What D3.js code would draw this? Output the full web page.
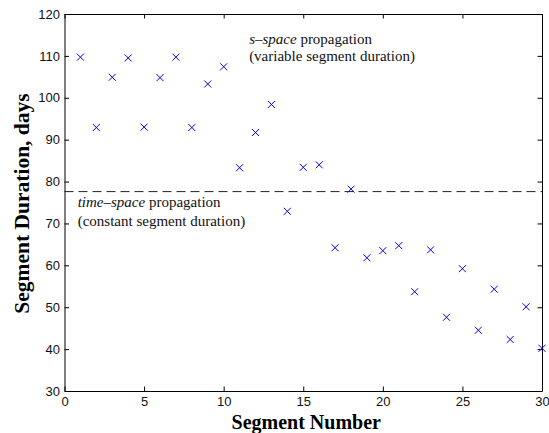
<!DOCTYPE html>
<html lang="en">
    <head>
        <meta charset="utf-8">
        <title> Segment Duration </title>
        <script type="text/javascript" src="https://cdn.jsdelivr.net/npm/d3@7"></script>
        <style type="text/css">
        body { margin: 0; background: #fff; }
        .tick text { font-family: "Liberation Sans", Arial, sans-serif; font-size: 13px; fill: #111; }
        .axis path, .axis line { stroke: #000; stroke-width: 1px; }
        .note { font-family: "Liberation Serif", "Times New Roman", serif; font-size: 15px; fill: #111; }
        .title { font-family: "Liberation Serif", "Times New Roman", serif; font-weight: bold; fill: #000; }
        </style>
    </head>
    <body>
        <script type="text/javascript">

            // Data ------------------------------------------------------------------------
            var segments  = [1, 2, 3, 4, 5, 6, 7, 8, 9, 10, 11, 12, 13, 14, 15,
                             16, 17, 18, 19, 20, 21, 22, 23, 24, 25, 26, 27, 28, 29, 30];
            var durations = [109.7, 92.9, 104.9, 109.5, 93.0, 104.8, 109.7, 92.9, 103.3, 107.4,
                             83.3, 91.7, 98.4, 72.9, 83.4, 84.0, 64.2, 78.2, 61.8, 63.5,
                             64.7, 53.7, 63.7, 47.6, 59.2, 44.5, 54.3, 42.3, 50.1, 40.2];
            var constantDuration = 77.6;

            var xTicks = [0, 5, 10, 15, 20, 25, 30];
            var yTicks = [30, 40, 50, 60, 70, 80, 90, 100, 110, 120];

            // Sizes -----------------------------------------------------------------------
            var width = 549, height = 433;
            var margin = {top: 14, right: 7, bottom: 42, left: 64.5};
            var w = width - margin.left - margin.right;
            var h = height - margin.top - margin.bottom;

            var x = d3.scaleLinear().domain([0, 30]).range([0, w]);
            var y = d3.scaleLinear().domain([30, 120]).range([h, 0]);

            var svg = d3.select("body").append("svg")
                .attr("width", width)
                .attr("height", height);

            var g = svg.append("g")
                .attr("transform", "translate(" + margin.left + "," + margin.top + ")");

            // Axes (box with inward ticks) ------------------------------------------------
            g.append("g").attr("class", "axis")
                .attr("transform", "translate(0," + h + ")")
                .call(d3.axisBottom(x).tickValues(xTicks).tickSizeInner(-4.5).tickSizeOuter(0).tickPadding(6));
            g.append("g").attr("class", "axis")
                .call(d3.axisTop(x).tickValues(xTicks).tickSizeInner(-4.5).tickSizeOuter(0).tickFormat(""));
            g.append("g").attr("class", "axis")
                .call(d3.axisLeft(y).tickValues(yTicks).tickSizeInner(-4.5).tickSizeOuter(0).tickPadding(4.5));
            g.append("g").attr("class", "axis")
                .attr("transform", "translate(" + w + ",0)")
                .call(d3.axisRight(y).tickValues(yTicks).tickSizeInner(-4.5).tickSizeOuter(0).tickFormat(""));

            // constant segment duration line
            g.append("line")
                .attr("x1", x(0)).attr("x2", x(30))
                .attr("y1", y(constantDuration)).attr("y2", y(constantDuration))
                .attr("stroke", "#222")
                .attr("stroke-width", 1)
                .attr("stroke-dasharray", "9,5");

            // x markers
            var s = 3.5;
            var pts = g.selectAll(".pt")
                .data(segments.map(function(d, i) { return {seg: d, dur: durations[i]}; }))
                .enter().append("path")
                .attr("class", "pt")
                .attr("d", function(d) {
                    var cx = x(d.seg), cy = y(d.dur);
                    return "M" + (cx - s) + "," + (cy - s) + "L" + (cx + s) + "," + (cy + s) +
                           "M" + (cx - s) + "," + (cy + s) + "L" + (cx + s) + "," + (cy - s);
                })
                .attr("stroke", "#0000ff")
                .attr("stroke-width", 1)
                .attr("fill", "none");

            // Annotations -----------------------------------------------------------------
            var t1 = g.append("text").attr("class", "note")
                .attr("x", x(11.6)).attr("y", y(112.8));
            t1.append("tspan").attr("font-style", "italic").text("s\u2013space");
            t1.append("tspan").text(" propagation");
            g.append("text").attr("class", "note")
                .attr("x", x(11.6)).attr("y", y(112.8) + 17)
                .text("(variable segment duration)");

            var t2 = g.append("text").attr("class", "note")
                .attr("x", x(0.83)).attr("y", y(73.9));
            t2.append("tspan").attr("font-style", "italic").text("time\u2013space");
            t2.append("tspan").text(" propagation");
            g.append("text").attr("class", "note")
                .attr("x", x(0.83)).attr("y", y(73.9) + 18.5)
                .text("(constant segment duration)");

            // Axis titles -----------------------------------------------------------------
            svg.append("text").attr("class", "title")
                .attr("x", margin.left + w / 2 + 3)
                .attr("y", 429)
                .attr("text-anchor", "middle")
                .style("font-size", "20px")
                .text("Segment Number");

            svg.append("text").attr("class", "title")
                .attr("transform", "translate(29," + (margin.top + h / 2 + 1) + ") rotate(-90)")
                .attr("text-anchor", "middle")
                .style("font-size", "21.5px")
                .text("Segment Duration, days");

        </script>
    </body>
</html>
